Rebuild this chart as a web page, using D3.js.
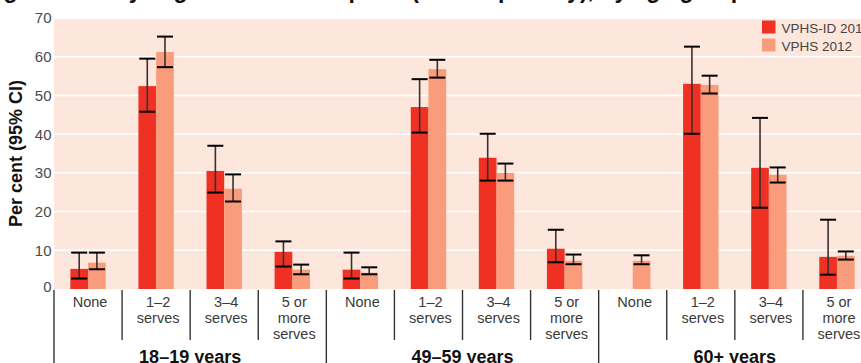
<!DOCTYPE html>
<html>
<head>
<meta charset="utf-8">
<script src="https://cdn.jsdelivr.net/npm/d3@7"></script>
<style>
  body { margin: 0; background: #fff; }
  svg { display: block; font-family: "Liberation Sans", Arial, sans-serif; }
</style>
</head>
<body>
<svg width="861" height="363"></svg>
<script>

// age groups and vegetable serve categories
var groups = ['18–19 years', '49–59 years', '60+ years'];
var cats = ['None', '1–2 serves', '3–4 serves', '5 or more serves'];
var catLines = [['None'], ['1–2', 'serves'], ['3–4', 'serves'], ['5 or', 'more', 'serves']];
var series = ['VPHS-ID 2015', 'VPHS 2012'];

// values per category, in order group x category (null = not reported)
var idVal = [5.2, 52.4, 30.5, 9.6,   5.0, 47.0, 33.9, 10.4,   null, 53.0, 31.3, 8.3];
var idLo  = [2.7, 45.8, 24.9, 5.8,   2.7, 40.4, 28.0, 6.9,    null, 40.1, 21.0, 3.7];
var idHi  = [9.4, 59.5, 37.0, 12.3,  9.4, 54.2, 40.1, 15.3,   null, 62.6, 44.2, 17.9];
var vVal  = [6.8, 61.2, 25.9, 5.0,   4.2, 56.8, 30.0, 7.3,    7.3, 52.7, 29.5, 8.6];
var vLo   = [5.1, 57.3, 22.6, 3.8,   3.8, 54.6, 28.0, 6.4,    6.4, 50.5, 27.5, 7.6];
var vHi   = [9.4, 65.2, 29.6, 6.3,   5.6, 59.2, 32.4, 8.9,    8.7, 55.1, 31.4, 9.7];

var yTicks = [0, 10, 20, 30, 40, 50, 60, 70];

var colors = ['#ef3124', '#f99c7b'];
var bgColor = '#fde7dd';

// note: "top" is a read-only window prop, so use other names
var pLeft = 54, pRight = 871, pTop = 18, pBottom = 289;

var keys = [];
groups.forEach(function(g){ cats.forEach(function(c){ keys.push(g + '|' + c); }); });

var x = d3.scaleBand().domain(keys).range([pLeft, pRight]).paddingInner(0);
var bw = x.bandwidth();
var pairW = 35.4;
var xsub = d3.scaleBand().domain(series).range([(bw - pairW) / 2, (bw + pairW) / 2]);
var y = d3.scaleLinear().domain([0, 70]).range([pBottom, pTop]);

var xg = d3.scaleBand().domain(groups).range([pLeft, pRight]);

var svg = d3.select('svg');

// cropped title, only the descenders show
svg.append('text')
   .attr('x', -17).attr('y', -2.5)
   .attr('font-size', 23).attr('font-weight', 'bold').attr('fill', '#111')
   .text('Figure 1: Daily vegetable consumption (serves per day), by age group');

// plot background
svg.append('rect')
   .attr('x', pLeft).attr('y', y(70) + 1)
   .attr('width', pRight - pLeft).attr('height', y(0) - y(70) - 1)
   .attr('fill', bgColor);

svg.append('g').selectAll('line')
   .data(yTicks.filter(function(t){ return t > 0 && t < 70; }))
   .join('line')
     .attr('x1', pLeft).attr('x2', pRight)
     .attr('y1', d => y(d)).attr('y2', d => y(d))
     .attr('stroke', '#fff').attr('stroke-width', 1.5);

// y tick labels
svg.append('g').selectAll('text')
   .data(yTicks)
   .join('text')
     .attr('x', 51.5).attr('y', d => y(d) - (d == 0 ? 2 : 0))
     .attr('dy', '0.36em')
     .attr('text-anchor', 'end')
     .attr('font-size', 15).attr('fill', '#4a4a4a')
     .text(d => d);

svg.append('text')
   .attr('transform', 'translate(22,' + ((y(0) + y(70)) / 2) + ') rotate(-90)')
   .attr('text-anchor', 'middle')
   .attr('font-size', 18).attr('font-weight', 'bold').attr('fill', '#111')
   .text('Per cent (95% CI)');

// rows for bars
var rows = [];
keys.forEach(function(k, i){
  rows.push({key: k, s: series[0], v: idVal[i], lo: idLo[i], hi: idHi[i]});
  rows.push({key: k, s: series[1], v: vVal[i], lo: vLo[i], hi: vHi[i]});
});
rows = rows.filter(d => d.v != null);

var color = d3.scaleOrdinal().domain(series).range(colors);

svg.append('g').selectAll('rect')
   .data(rows)
   .join('rect')
     .attr('x', d => x(d.key) + xsub(d.s))
     .attr('y', d => y(d.v))
     .attr('width', xsub.bandwidth())
     .attr('height', d => y(0) - y(d.v))
     .attr('fill', d => color(d.s));

// error bars
var err = svg.append('g').selectAll('g')
   .data(rows)
   .join('g')
     .attr('transform', d => 'translate(' + (x(d.key) + xsub(d.s) + xsub.bandwidth() / 2) + ',0)');
err.append('line')
   .attr('y1', d => y(d.lo)).attr('y2', d => y(d.hi))
   .attr('stroke', '#3a3030').attr('stroke-width', 1.6);
err.append('line')
   .attr('x1', -8).attr('x2', 8)
   .attr('y1', d => y(d.hi)).attr('y2', d => y(d.hi))
   .attr('stroke', '#000').attr('stroke-width', 2);
err.append('line')
   .attr('x1', -8).attr('x2', 8)
   .attr('y1', d => y(d.lo)).attr('y2', d => y(d.lo))
   .attr('stroke', '#000').attr('stroke-width', 2);

// category separators and labels
var sep = keys.filter(function(k, i){ return i % 4 != 0; });
svg.append('g').selectAll('line')
   .data(sep)
   .join('line')
     .attr('x1', d => x(d)).attr('x2', d => x(d))
     .attr('y1', y(0) + 1).attr('y2', 340)
     .attr('stroke', '#333').attr('stroke-width', 1.4);

svg.append('g').selectAll('line')
   .data(groups.concat(['end']))
   .join('line')
     .attr('x1', d => d == 'end' ? pRight : xg(d)).attr('x2', d => d == 'end' ? pRight : xg(d))
     .attr('y1', y(0) + 1).attr('y2', 363)
     .attr('stroke', '#333').attr('stroke-width', 1.4);

var lab = svg.append('g').selectAll('text')
   .data(keys)
   .join('text')
     .attr('x', d => x(d) + bw / 2 + 2)
     .attr('y', 306.5)
     .attr('text-anchor', 'middle')
     .attr('font-size', 14.5).attr('fill', '#3a3a3a');
lab.selectAll('tspan')
   .data((d, i) => catLines[i % 4])
   .join('tspan')
     .attr('x', function(){ return d3.select(this.parentNode).attr('x'); })
     .attr('dy', (d, i) => i == 0 ? 0 : 16.4)
     .text(d => d);

svg.append('g').selectAll('text')
   .data(groups)
   .join('text')
     .attr('x', d => xg(d) + xg.bandwidth() / 2)
     .attr('y', 362.5)
     .attr('text-anchor', 'middle')
     .attr('font-size', 18).attr('font-weight', 'bold').attr('fill', '#111')
     .text(d => d);

// legend
var leg = svg.append('g').selectAll('g')
   .data(series)
   .join('g')
     .attr('transform', (d, i) => 'translate(762,' + (20.5 + i * 18) + ')');
leg.append('rect')
   .attr('width', 13.5).attr('height', 13)
   .attr('fill', d => color(d));
leg.append('text')
   .attr('x', 19.5).attr('y', 12)
   .attr('font-size', 13.5).attr('fill', '#444')
   .text(d => d);

</script>
</body>
</html>
